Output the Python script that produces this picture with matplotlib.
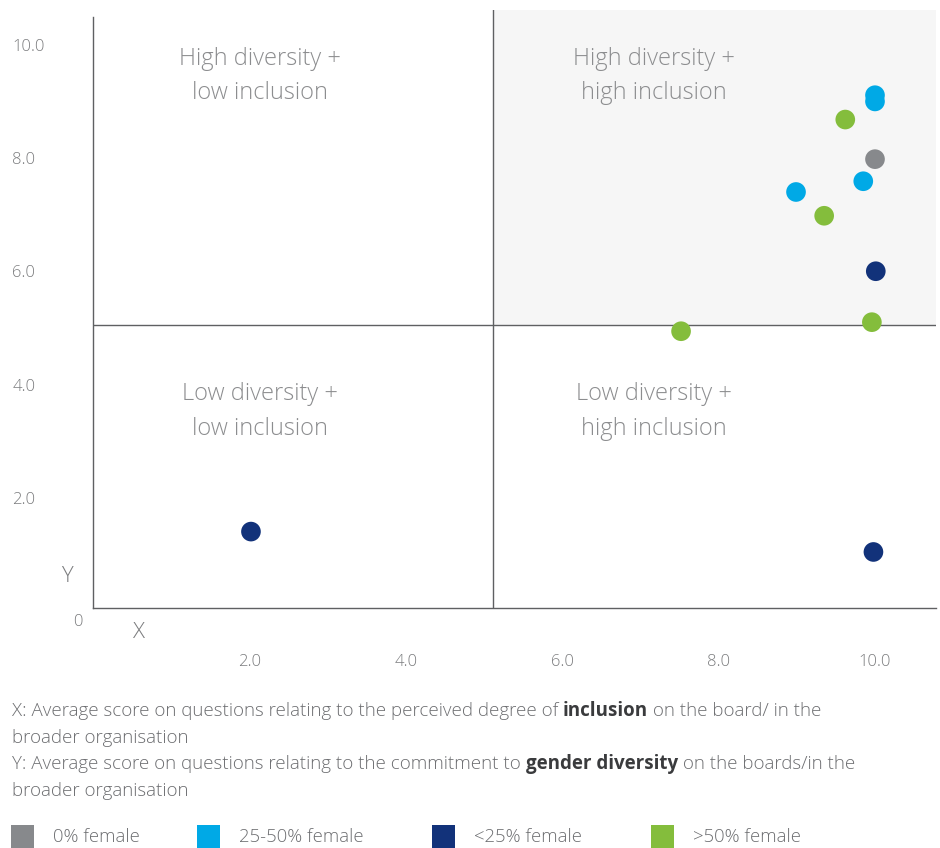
import matplotlib
matplotlib.use("Agg")
import matplotlib.pyplot as plt
from matplotlib.patches import Rectangle
from matplotlib import transforms

plt.rcParams['font.family'] = ['Open Sans', 'DejaVu Sans']

# ---- data ----
categories = ['0% female', '25-50% female', '<25% female', '>50% female']
colors = ['#87898c', '#00a9e6', '#12327a', '#84bd3c']
x_gray = [10.0]
y_gray = [7.93]
x_cyan = [10.0, 10.0, 9.85, 8.99]
y_cyan = [9.06, 8.95, 7.54, 7.35]
x_navy = [2.02, 9.98, 10.01]
y_navy = [1.35, 0.99, 5.95]
x_green = [7.52, 9.96, 9.35, 9.62]
y_green = [4.89, 5.05, 6.93, 8.63]
series_x = [x_gray, x_cyan, x_navy, x_green]
series_y = [y_gray, y_cyan, y_navy, y_green]
xticks = [2, 4, 6, 8, 10]
yticks = [2, 4, 6, 8, 10]
tick_labels = ['2.0', '4.0', '6.0', '8.0', '10.0']
quad_labels = ['High diversity +\nlow inclusion', 'High diversity +\nhigh inclusion',
               'Low diversity +\nlow inclusion', 'Low diversity +\nhigh inclusion']

W, H = 940, 848
fig = plt.figure(figsize=(W / 100, H / 100), dpi=100)
ax = fig.add_axes([93 / W, 1 - 608 / H, (936 - 93) / W, (608 - 10) / H])

XMAX = (936 - 93) / 78.2
YMAX = (608 - 10) / 56.6
XDIV = (493 - 93) / 78.2
YDIV = 5.0
ax.set_xlim(0, XMAX)
ax.set_ylim(0, YMAX)

line_col = '#5f6062'
ax.add_patch(Rectangle((XDIV, YDIV), XMAX - XDIV, YMAX - YDIV, facecolor='#f6f6f6',
                       edgecolor='none', zorder=0))
ax.axvline(XDIV, color=line_col, lw=1.0, zorder=1)
ax.axhline(YDIV, color=line_col, lw=1.0, zorder=1)

for s in ['top', 'right']:
    ax.spines[s].set_visible(False)
for s in ['left', 'bottom']:
    ax.spines[s].set_color(line_col)
    ax.spines[s].set_linewidth(1.0)
ax.spines['left'].set_bounds(0, (608 - 17) / 56.6)

for xs, ys, c in zip(series_x, series_y, colors):
    ax.scatter(xs, ys, s=200, color=c, edgecolors='none', zorder=3)

tick_col = '#7b7c7e'
ax.set_xticks(xticks)
ax.set_xticklabels(tick_labels, fontsize=12, color=tick_col, fontweight='light')
ax.set_yticks(yticks)
ax.set_yticklabels(tick_labels, fontsize=12, color=tick_col, ha='left', fontweight='light')
ax.tick_params(axis='x', length=0, pad=33)
ax.tick_params(axis='y', length=0, pad=58)
off = transforms.ScaledTranslation(0, -3 / 100, fig.dpi_scale_trans)
for lbl in ax.get_yticklabels():
    lbl.set_transform(lbl.get_transform() + off)

qcol = '#8c8d8f'
qx = [2.14, 7.17, 2.14, 7.17]
qy = [9.40, 9.40, 3.47, 3.47]
for t, xq, yq in zip(quad_labels, qx, qy):
    ax.text(xq, yq, t, ha='center', va='center', fontsize=17, color=qcol,
            linespacing=1.6, fontweight='light')

fig.text(78 / W, 1 - 622 / H, '0', fontsize=12, color=tick_col, ha='center', va='center',
         fontweight='light')
fig.text(67 / W, 1 - 576 / H, 'Y', fontsize=16, color=tick_col, ha='center', va='center',
         fontweight='light')
fig.text(139 / W, 1 - 633 / H, 'X', fontsize=16, color=tick_col, ha='center', va='center',
         fontweight='light')

# ---- footnote ----
fcol = '#6d6e71'
bcol = '#3a3b3d'
fs = 13.5
renderer = fig.canvas.get_renderer()

def chain(parts, x_px, y_px):
    x = x_px
    for txt, w, c in parts:
        t = fig.text(x / W, 1 - y_px / H, txt, fontsize=fs, color=c, fontweight=w,
                     ha='left', va='baseline')
        bb = t.get_window_extent(renderer=renderer)
        x = x + bb.width

chain([('X: Average score on questions relating to the perceived degree of ', 'light', fcol),
       ('inclusion', 'bold', bcol),
       (' on the board/ in the', 'light', fcol)], 12, 716)
fig.text(12 / W, 1 - 743 / H, 'broader organisation', fontsize=fs, color=fcol, ha='left',
         va='baseline', fontweight='light')
chain([('Y: Average score on questions relating to the commitment to ', 'light', fcol),
       ('gender diversity', 'bold', bcol),
       (' on the boards/in the', 'light', fcol)], 12, 769)
fig.text(12 / W, 1 - 796 / H, 'broader organisation', fontsize=fs, color=fcol, ha='left',
         va='baseline', fontweight='light')

# ---- legend ----
sq_x = [11, 197, 432, 651]
for cat, c, sx in zip(categories, colors, sq_x):
    fig.patches.append(Rectangle((sx / W, 0), 23 / W, 23 / H, facecolor=c, edgecolor='none',
                                 transform=fig.transFigure, figure=fig))
    fig.text((sx + 42) / W, 1 - 837 / H, cat, fontsize=13.3, color=fcol, ha='left', va='center',
             fontweight='light')

fig.savefig('out.png', dpi=100)
